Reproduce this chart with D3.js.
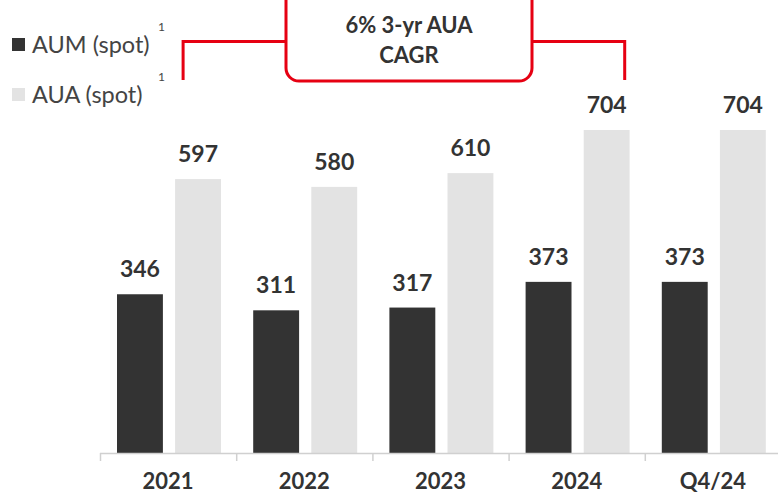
<!DOCTYPE html>
<html>
<head>
<meta charset="utf-8">
<script src="https://cdn.jsdelivr.net/npm/d3@7"></script>
<style>
  body { margin: 0; background: #fff; }
  svg { display: block; font-family: Lato, "Open Sans", sans-serif; }
</style>
</head>
<body>
<svg width="778" height="495"></svg>
<script>
var categories = ["2021", "2022", "2023", "2024", "Q4/24"];
var seriesNames = ["AUM (spot)", "AUA (spot)"];
var aum = [346, 311, 317, 373, 373];
var aua = [597, 580, 610, 704, 704];
var colors = ["#333333", "#e3e3e3"];
var cagrLines = ["6% 3-yr AUA", "CAGR"];

var svg = d3.select("svg"),
    baseY = 453;

var x0 = d3.scaleBand().domain(categories).range([100, 781]);
var x1 = d3.scaleBand().domain(seriesNames).range([17, 121]).paddingInner(0.21);
var y = d3.scaleLinear().domain([0, 704]).range([baseY, 130]);

var data = categories.map(function(c, i) {
    return {cat: c, vals: [aum[i], aua[i]]};
});

// bars
var groups = svg.selectAll("g.cat")
    .data(data)
  .enter().append("g")
    .attr("class", "cat")
    .attr("transform", function(d) { return "translate(" + x0(d.cat) + ",0)"; });

groups.selectAll("rect")
    .data(function(d) { return d.vals.map(function(v, j) { return {s: seriesNames[j], v: v, j: j}; }); })
  .enter().append("rect")
    .attr("x", function(d) { return x1(d.s); })
    .attr("y", function(d) { return y(d.v); })
    .attr("width", x1.bandwidth())
    .attr("height", function(d) { return baseY - y(d.v); })
    .attr("fill", function(d) { return colors[d.j]; });

groups.selectAll("text.val")
    .data(function(d) { return d.vals.map(function(v, j) { return {s: seriesNames[j], v: v}; }); })
  .enter().append("text")
    .attr("class", "val")
    .attr("x", function(d) { return x1(d.s) + x1.bandwidth() / 2; })
    .attr("y", function(d) { return y(d.v) - 17; })
    .attr("text-anchor", "middle")
    .attr("font-size", 23)
    .attr("font-weight", 700)
    .attr("fill", "#333")
    .text(function(d) { return d.v; });

// x axis
var axis = svg.append("g");
axis.append("line")
    .attr("x1", 100).attr("x2", 778)
    .attr("y1", baseY + 0.5).attr("y2", baseY + 0.5)
    .attr("stroke", "#d0d0d0").attr("stroke-width", 1.5);
axis.selectAll("line.tick")
    .data(categories)
  .enter().append("line")
    .attr("class", "tick")
    .attr("x1", function(d) { return x0(d) + 0.5; })
    .attr("x2", function(d) { return x0(d) + 0.5; })
    .attr("y1", baseY).attr("y2", baseY + 8)
    .attr("stroke", "#d0d0d0").attr("stroke-width", 1.5);
axis.selectAll("text")
    .data(categories)
  .enter().append("text")
    .attr("x", function(d) { return x0(d) + x0.bandwidth() / 2; })
    .attr("y", 489)
    .attr("text-anchor", "middle")
    .attr("font-size", 22)
    .attr("font-weight", 700)
    .attr("fill", "#333")
    .text(function(d) { return d; });

// legend
var legend = svg.selectAll("g.leg")
    .data(seriesNames)
  .enter().append("g")
    .attr("class", "leg")
    .attr("transform", function(d, i) { return "translate(12," + (38 + i * 50) + ")"; });
legend.append("rect")
    .attr("width", 13).attr("height", 13)
    .attr("fill", function(d, i) { return colors[i]; });
legend.append("text")
    .attr("x", 20).attr("y", 15)
    .attr("font-size", 23.5)
    .attr("fill", "#444")
    .text(function(d) { return d; });
legend.append("text")
    .attr("x", 146).attr("y", -7)
    .attr("font-size", 12)
    .attr("fill", "#444")
    .text("1");

// CAGR bracket
var red = "#e60012";
var leftX = x0("2021") + x1("AUA (spot)") + 8,
    rightX = x0("2024") + x1("AUA (spot)") + 41,
    boxL = 286, boxR = 532, lineY = 41.5, botY = 80;
var br = svg.append("g").attr("fill", "none").attr("stroke", red).attr("stroke-width", 3);
br.append("path")
    .attr("d", "M" + leftX + "," + botY + "V" + lineY + "H" + boxL);
br.append("path")
    .attr("d", "M" + boxR + "," + lineY + "H" + rightX + "V" + botY);
br.append("rect")
    .attr("x", boxL).attr("y", -14)
    .attr("width", boxR - boxL).attr("height", botY - -14 + 1)
    .attr("rx", 13)
    .attr("fill", "#fff");
svg.selectAll("text.cagr")
    .data(cagrLines)
  .enter().append("text")
    .attr("class", "cagr")
    .attr("x", (boxL + boxR) / 2)
    .attr("y", function(d, i) { return 33 + i * 30; })
    .attr("text-anchor", "middle")
    .attr("font-size", 22)
    .attr("font-weight", 700)
    .attr("fill", "#333")
    .text(function(d) { return d; });
</script>
</body>
</html>
